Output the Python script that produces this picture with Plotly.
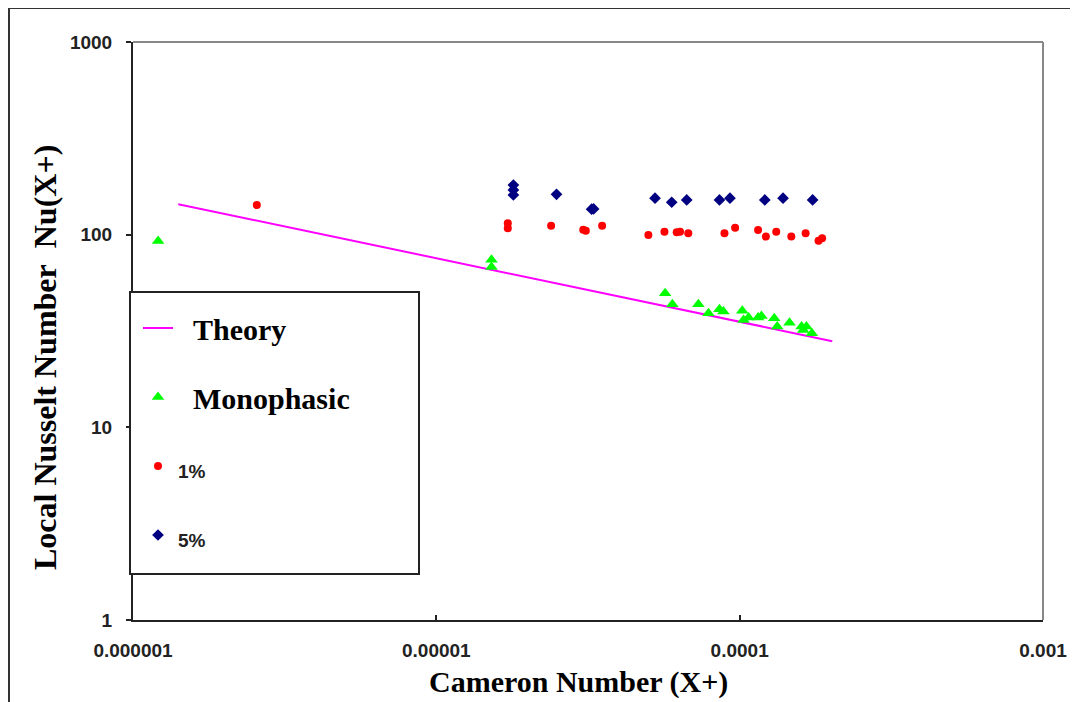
import plotly.graph_objects as go

# ---- data ----
theory_x = [1.41e-6, 2.02e-4]
theory_y = [144, 28]

mono_x = [1.21e-6, 1.52e-5, 1.52e-5, 5.68e-5, 6.0e-5, 7.31e-5, 7.89e-5, 8.58e-5,
          8.84e-5, 1.02e-4, 1.03e-4, 1.07e-4, 1.15e-4, 1.18e-4, 1.30e-4, 1.33e-4,
          1.46e-4, 1.60e-4, 1.62e-4, 1.66e-4, 1.73e-4]
mono_y = [92.7, 74, 68, 49.7, 43.6, 43.6, 39.1, 41.0,
          39.9, 40.3, 36.1, 37.2, 37.2, 37.8, 36.8, 33.4,
          34.9, 33.4, 32.0, 33.4, 30.8]

p1_x = [2.56e-6, 1.72e-5, 1.72e-5, 2.39e-5, 3.05e-5, 3.11e-5, 3.52e-5, 5.0e-5,
        5.65e-5, 6.2e-5, 6.36e-5, 6.77e-5, 8.91e-5, 9.66e-5, 1.15e-4, 1.22e-4,
        1.32e-4, 1.48e-4, 1.65e-4, 1.82e-4, 1.87e-4]
p1_y = [142.6, 114.6, 108, 111.4, 106, 104.9, 111.4, 99.6,
        103.7, 103.0, 103.7, 101.7, 101.7, 108.7, 105.7, 97.7,
        103.7, 97.7, 101.7, 93.1, 95.7]

p5_x = [1.795e-5, 1.795e-5, 1.795e-5, 2.49e-5, 3.25e-5, 3.3e-5, 5.26e-5, 5.97e-5,
        6.69e-5, 8.58e-5, 9.29e-5, 1.21e-4, 1.39e-4, 1.74e-4]
p5_y = [181, 170.6, 160.7, 162, 135.6, 136, 154.6, 147.3,
        151.4, 151.4, 154.6, 151.4, 154.6, 151.4]

x_ticks = [1e-6, 1e-5, 1e-4, 1e-3]
x_labels = ["0.000001", "0.00001", "0.0001", "0.001"]
y_ticks = [1, 10, 100, 1000]
y_labels = ["1", "10", "100", "1000"]

# ---- layout geometry (reference pixel coords; page body adds an 8px offset) ----
OFF = 8
PAGE_W, PAGE_H = 1078, 702
W, H = PAGE_W - OFF, PAGE_H - OFF
L, R, T, B = 133, 1043, 42, 620


def px(x):
    return (x - L) / (R - L)


def py(y):
    return (B - y) / (B - T)


SERIF = "Liberation Serif, Times New Roman, serif"
SANS = "Liberation Sans, Arial, sans-serif"
SPAN = "<span style='font-family:Liberation Sans, Arial, sans-serif;font-size:19px;color:#222'><b>{}</b></span>"

fig = go.Figure()
fig.add_trace(go.Scatter(
    x=theory_x, y=theory_y, mode="lines", name="\u00a0\u00a0<b>Theory</b>",
    line=dict(color="#FF00FF", width=2), legendgroup="a"))
fig.add_trace(go.Scatter(
    x=mono_x, y=mono_y, mode="markers", name="\u00a0\u00a0<b>Monophasic</b>",
    marker=dict(symbol="triangle-up", color="#00FF00", size=11), legendgroup="b"))
fig.add_trace(go.Scatter(
    x=p1_x, y=p1_y, mode="markers", name=SPAN.format("1%"),
    marker=dict(symbol="circle", color="#FF0000", size=8), legendgroup="c"))
fig.add_trace(go.Scatter(
    x=p5_x, y=p5_y, mode="markers", name=SPAN.format("5%"),
    marker=dict(symbol="diamond", color="#000080", size=9), legendgroup="d"))

fig.update_layout(
    width=W, height=H,
    margin=dict(l=L - OFF, r=PAGE_W - R, t=T - OFF, b=PAGE_H - B),
    paper_bgcolor="white", plot_bgcolor="white",
    showlegend=True,
    legend=dict(
        x=px(138), y=py(302), xanchor="left", yanchor="top",
        bgcolor="rgba(0,0,0,0)", borderwidth=0,
        font=dict(family=SERIF, size=30, color="black"),
        traceorder="grouped", tracegroupgap=27,
        itemsizing="trace",
    ),
    xaxis=dict(
        type="log", range=[-6, -3], tickvals=x_ticks, ticktext=x_labels,
        ticks="inside", ticklen=5, tickwidth=1.5, tickcolor="#222",
        showline=True, linecolor="#222", linewidth=2, showgrid=False, zeroline=False,
        tickfont=dict(family=SANS, size=19, color="#222", weight="bold"),
        ticklabelstandoff=12,
    ),
    yaxis=dict(
        type="log", range=[0, 3], tickvals=y_ticks, ticktext=y_labels,
        ticks="outside", ticklen=5, tickwidth=1.5, tickcolor="#222",
        showline=True, linecolor="#222", linewidth=2, showgrid=False, zeroline=False,
        tickfont=dict(family=SANS, size=19, color="#222", weight="bold"),
        ticklabelstandoff=10,
    ),
    shapes=[
        # top and right border of plot area (gray)
        dict(type="line", xref="paper", yref="paper", x0=0, x1=1, y0=1, y1=1,
             line=dict(color="#888", width=2)),
        dict(type="line", xref="paper", yref="paper", x0=1, x1=1, y0=0, y1=1,
             line=dict(color="#888", width=2)),
        # outer frame
        dict(type="rect", xref="paper", yref="paper",
             x0=px(9), x1=px(1090), y0=py(8), y1=py(715),
             line=dict(color="#333", width=2), fillcolor="rgba(0,0,0,0)"),
        # legend box
        dict(type="rect", xref="paper", yref="paper", layer="above",
             x0=px(130), x1=px(419), y0=py(292), y1=py(574),
             line=dict(color="#222", width=2), fillcolor="white"),
    ],
    annotations=[
        dict(text="<b>Cameron Number (X+)</b>", xref="paper", yref="paper",
             x=px(578), y=py(682), xanchor="center", yanchor="middle", showarrow=False,
             font=dict(family=SERIF, size=30, color="black")),
        dict(text="<b>Local Nusselt Number\u00a0\u00a0Nu(X+)</b>", xref="paper", yref="paper",
             x=px(45), y=py(358), xanchor="center", yanchor="middle", showarrow=False,
             textangle=-90, font=dict(family=SERIF, size=32, color="black")),
    ],
)

fig.write_html("out.html")
